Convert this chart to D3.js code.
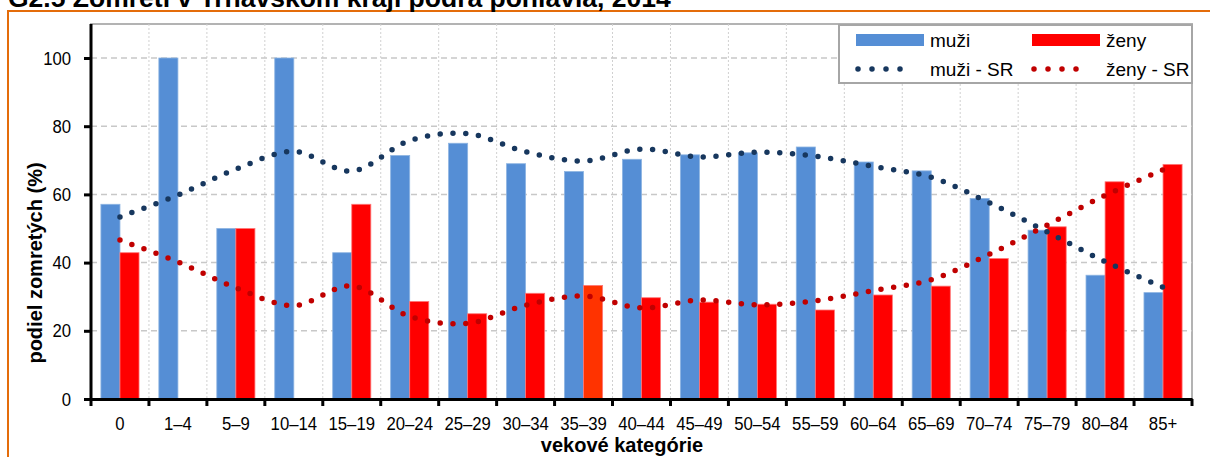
<!DOCTYPE html>
<html>
<head>
<meta charset="utf-8">
<script src="https://cdn.jsdelivr.net/npm/d3@7/dist/d3.min.js"></script>
<style>
  body { margin: 0; background: #fff; }
  svg { display: block; }
  text { font-family: "Liberation Sans", Arial, sans-serif; fill: #000; }
</style>
</head>
<body>
<script>
const categories = ["0", "1–4", "5–9", "10–14", "15–19", "20–24", "25–29", "30–34", "35–39", "40–44",
  "45–49", "50–54", "55–59", "60–64", "65–69", "70–74", "75–79", "80–84", "85+"]

const muzi = [57.1, 100, 50, 100, 42.9, 71.4, 75.0, 69.0, 66.7, 70.3, 71.6, 72.2, 73.9, 69.5, 66.9, 58.8, 49.5, 36.3, 31.2]
const zeny = [42.9, 0, 50, 0, 57.1, 28.6, 25.0, 31.0, 33.3, 29.7, 28.4, 27.8, 26.1, 30.5, 33.1, 41.2, 50.5, 63.7, 68.8]

const muziSR = [53.4, 59.8, 67.4, 72.6, 66.8, 75.8, 77.8, 72.5, 69.8, 73.3, 71.0, 72.4, 71.2, 68.2, 65.0, 57.6, 49.0, 40.3, 32.8]
const zenySR = [46.6, 40.2, 32.6, 27.4, 33.2, 24.2, 22.2, 27.5, 30.2, 26.7, 29.0, 27.6, 28.8, 31.8, 35.0, 42.4, 51.0, 59.7, 67.2]

const yTicks = [0, 20, 40, 60, 80, 100]

const W = 1210, H = 457
const margin = { left: 91, right: 18, top: 24, bottom: 58 }
const narrow = 0.88 // horizontal squeeze to mimic the condensed tick font

const svg = d3.select("body").append("svg")
  .attr("width", W).attr("height", H)

// orange frame
svg.append("path")
  .attr("d", `M8,${H + 5} L8,11 L${W + 5},11`)
  .attr("fill", "none").attr("stroke", "#E46C0A").attr("stroke-width", 2)

// title (cut at top edge, as in the source)
svg.append("text")
  .attr("x", 8).attr("y", 7)
  .attr("font-size", 26.5).attr("font-weight", "bold")
  .text("G2.5 Zomretí v Trnavskom kraji podľa pohlavia, 2014")

const x = d3.scaleBand()
  .domain(categories)
  .range([margin.left, W - margin.right])

const y = d3.scaleLinear()
  .domain([0, 100])
  .range([H - margin.bottom, 58])

const plotTop = margin.top
const plotBottom = H - margin.bottom
const plotRight = W - margin.right

// plot frame
svg.append("rect")
  .attr("x", margin.left).attr("y", plotTop)
  .attr("width", plotRight - margin.left).attr("height", plotBottom - plotTop)
  .attr("fill", "#fff").attr("stroke", "#b3b3b3").attr("stroke-width", 2)

// vertical grid
svg.append("g")
  .selectAll("line")
  .data(categories.slice(1))
  .join("line")
  .attr("x1", d => x(d)).attr("x2", d => x(d))
  .attr("y1", plotTop).attr("y2", plotBottom)
  .attr("stroke", "#d0d0d0").attr("stroke-width", 1).attr("stroke-dasharray", "2 2")

// horizontal grid
svg.append("g")
  .selectAll("line")
  .data(yTicks.slice(1))
  .join("line")
  .attr("x1", margin.left).attr("x2", plotRight)
  .attr("y1", d => y(d)).attr("y2", d => y(d))
  .attr("stroke", "#c8c8c8").attr("stroke-width", 1.5).attr("stroke-dasharray", "6 4")

// bars
const sub = d3.scaleBand()
  .domain(["muzi", "zeny"])
  .range([0, x.bandwidth()])
  .paddingOuter(0.52)
  .paddingInner(0)

svg.append("g")
  .selectAll("rect")
  .data(categories.map((c, i) => ({ c, v: muzi[i] })))
  .join("rect")
  .attr("x", d => x(d.c) + sub("muzi"))
  .attr("y", d => y(d.v))
  .attr("width", sub.bandwidth())
  .attr("height", d => y(0) - y(d.v))
  .attr("fill", "#558ED5")
  .attr("stroke", "#8DB4E2").attr("stroke-width", 0.8)

svg.append("g")
  .selectAll("rect")
  .data(categories.map((c, i) => ({ c, v: zeny[i] })))
  .join("rect")
  .attr("x", d => x(d.c) + sub("zeny"))
  .attr("y", d => y(d.v))
  .attr("width", sub.bandwidth())
  .attr("height", d => y(0) - y(d.v))
  .attr("fill", d => d.c === "35–39" ? "#FF3300" : "#FF0000")
  .attr("stroke", d => d.v > 0 ? "#FF7777" : "none").attr("stroke-width", 0.8)

// dotted smoothed lines
const line = d3.line()
  .x((d, i) => x(categories[i]) + x.bandwidth() / 2)
  .y(d => y(d))
  .curve(d3.curveCatmullRom.alpha(0.5))

svg.append("path")
  .attr("d", line(muziSR))
  .attr("fill", "none").attr("stroke", "#17375E")
  .attr("stroke-width", 5.5).attr("stroke-linecap", "round")
  .attr("stroke-dasharray", "0 12.8")

svg.append("path")
  .attr("d", line(zenySR))
  .attr("fill", "none").attr("stroke", "#C00000")
  .attr("stroke-width", 5.5).attr("stroke-linecap", "round")
  .attr("stroke-dasharray", "0 12.8")

// axes
const yAxis = svg.append("g")
  .attr("transform", `translate(${margin.left},0)`)
  .call(d3.axisLeft(y).tickValues(yTicks).tickSize(7))
yAxis.select(".domain").attr("stroke", "#000").attr("stroke-width", 3)
  .attr("d", `M0,${plotTop}V${plotBottom}`)
yAxis.selectAll(".tick line").attr("stroke", "#000").attr("stroke-width", 3)
yAxis.selectAll(".tick text")
  .attr("font-size", 19).attr("fill", "#000")
  .style("font-family", "'Liberation Sans', Arial, sans-serif")
  .attr("x", -20 / narrow)
  .attr("transform", `scale(${narrow},1)`)

const xAxis = svg.append("g")
  .attr("transform", `translate(0,${plotBottom})`)
  .call(d3.axisBottom(x).tickSize(0).tickPadding(18))
xAxis.select(".domain").attr("stroke", "#000").attr("stroke-width", 3)
xAxis.selectAll(".tick text")
  .attr("font-size", 19).attr("fill", "#000")
  .style("font-family", "'Liberation Sans', Arial, sans-serif")
  .attr("transform", `scale(${narrow},1)`)

// category boundary ticks
svg.append("g")
  .selectAll("line")
  .data(categories.map(c => x(c)).concat([plotRight]))
  .join("line")
  .attr("x1", d => d).attr("x2", d => d)
  .attr("y1", plotBottom).attr("y2", plotBottom + 7)
  .attr("stroke", "#000").attr("stroke-width", 3)

// axis titles
svg.append("text")
  .attr("transform", `translate(42,263) rotate(-90)`)
  .attr("text-anchor", "middle")
  .attr("font-size", 20).attr("font-weight", "bold")
  .text("podiel zomretých (%)")

svg.append("text")
  .attr("x", 622).attr("y", 452)
  .attr("text-anchor", "middle")
  .attr("font-size", 20).attr("font-weight", "bold")
  .text("vekové kategórie")

// legend
const lg = svg.append("g")
lg.append("rect")
  .attr("x", 839).attr("y", 25).attr("width", 353).attr("height", 58)
  .attr("fill", "#fff").attr("stroke", "#a6a6a6").attr("stroke-width", 2)

const legendItems = [
  { label: "muži", type: "bar", color: "#558ED5", lx: 856, ly: 40 },
  { label: "ženy", type: "bar", color: "#FF0000", lx: 1032, ly: 40 },
  { label: "muži - SR", type: "dot", color: "#17375E", lx: 856, ly: 69 },
  { label: "ženy - SR", type: "dot", color: "#C00000", lx: 1032, ly: 69 }
]

legendItems.forEach(it => {
  if (it.type === "bar") {
    lg.append("rect")
      .attr("x", it.lx).attr("y", it.ly - 6).attr("width", 68).attr("height", 12)
      .attr("fill", it.color)
  } else {
    lg.append("path")
      .attr("d", `M${it.lx + 2},${it.ly}H${it.lx + 58}`)
      .attr("stroke", it.color).attr("stroke-width", 5.5)
      .attr("stroke-linecap", "round").attr("stroke-dasharray", "0 14")
  }
  lg.append("text")
    .attr("x", it.lx + 74).attr("y", it.ly + 7)
    .attr("font-size", 19)
    .text(it.label)
})
</script>
</body>
</html>
